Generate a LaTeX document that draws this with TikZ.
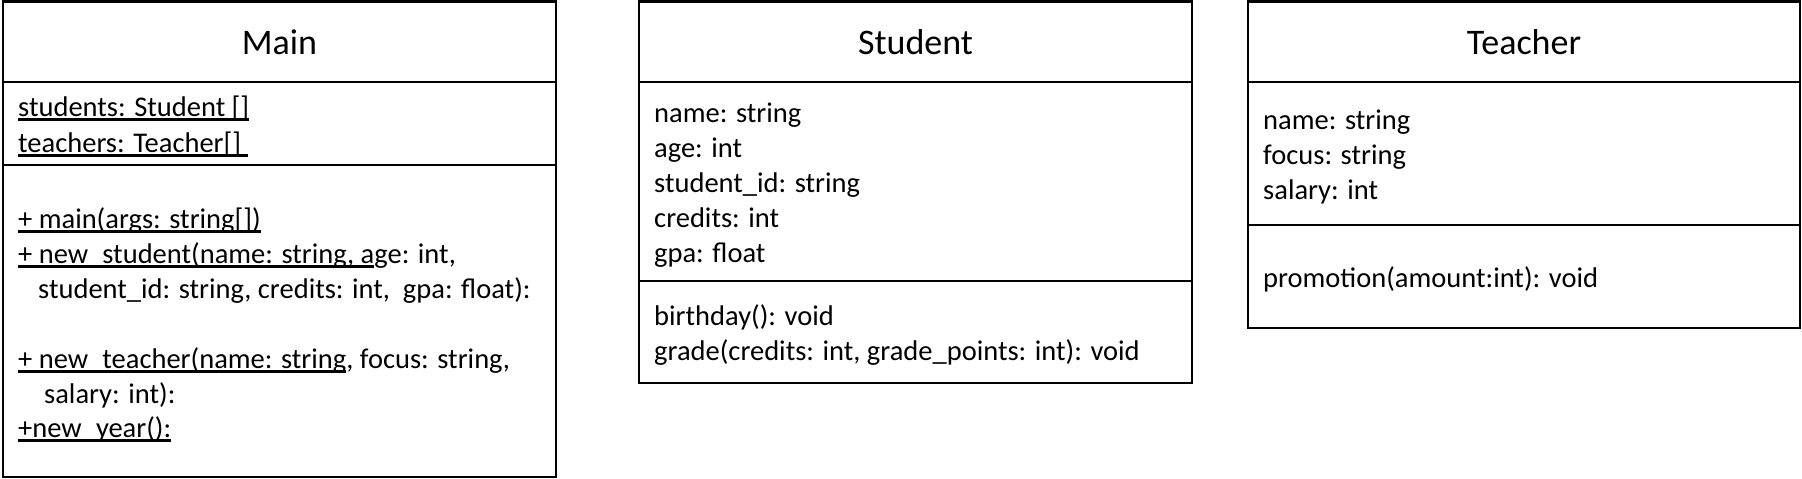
\documentclass[tikz,border=0pt]{standalone}
\usepackage{fontspec}
\setmainfont{Carlito}
\newcommand\myul[1]{\setbox0=\hbox{#1}\rlap{\rule[-4.5pt]{\wd0}{2.4pt}}\box0}
\begin{document}
\begin{tikzpicture}[x=1pt,y=-1pt,
  boxline/.style={line width=2.4pt},
  title/.style={anchor=base, inner sep=0pt, font=\fontsize{36}{43}\selectfont},
  entry/.style={anchor=base west, inner sep=0pt, font=\fontsize{28.5}{34}\selectfont}]
\useasboundingbox (0,0) rectangle (1802,479);
\fill[white] (0,0) rectangle (1802,479);
% Main
\draw[boxline] (3,1.5) rectangle (556,477);
\draw[boxline] (3,82) -- (556,82);
\draw[boxline] (3,165) -- (556,165);
\node[title] (mainT) at (279.5,54) {Main};
\node[entry] (m1) at (18,116) {\myul{students: Student []}};
\node[entry] (m2) at (18,152) {\myul{teachers: Teacher[]\ }};
\node[entry] (m3) at (18,228) {\myul{+ main(args: string[])}};
\node[entry] (m4) at (18,263) {\myul{+ new\_student(name: string, a}ge: int,};
\node[entry] (m5) at (38,298) {student\_id: string, credits: int, \ gpa: float):};
\node[entry] (m6) at (18,368) {\myul{+ new\_teacher(name: string}, focus: string,};
\node[entry] (m7) at (44,403) {salary: int):};
\node[entry] (m8) at (18,437) {\myul{+new\_year():}};
% Student
\draw[boxline] (639,1.5) rectangle (1192,383);
\draw[boxline] (639,82) -- (1192,82);
\draw[boxline] (639,281) -- (1192,281);
\node[title] (stuT) at (915.5,54) {Student};
\node[entry] (s1) at (654,122) {name: string};
\node[entry] (s2) at (654,157) {age: int};
\node[entry] (s3) at (654,192) {student\_id: string};
\node[entry] (s4) at (654,227) {credits: int};
\node[entry] (s5) at (654,262) {gpa: float};
\node[entry] (s6) at (654,325) {birthday(): void};
\node[entry] (s7) at (654,360) {grade(credits: int, grade\_points: int): void};
% Teacher
\draw[boxline] (1248,1.5) rectangle (1800,328);
\draw[boxline] (1248,82) -- (1800,82);
\draw[boxline] (1248,225) -- (1800,225);
\node[title] (teaT) at (1524,54) {Teacher};
\node[entry] (t1) at (1263,129) {name: string};
\node[entry] (t2) at (1263,164) {focus: string};
\node[entry] (t3) at (1263,199) {salary: int};
\node[entry] (t4) at (1263,287) {promotion(amount:int): void};
\end{tikzpicture}
\end{document}
